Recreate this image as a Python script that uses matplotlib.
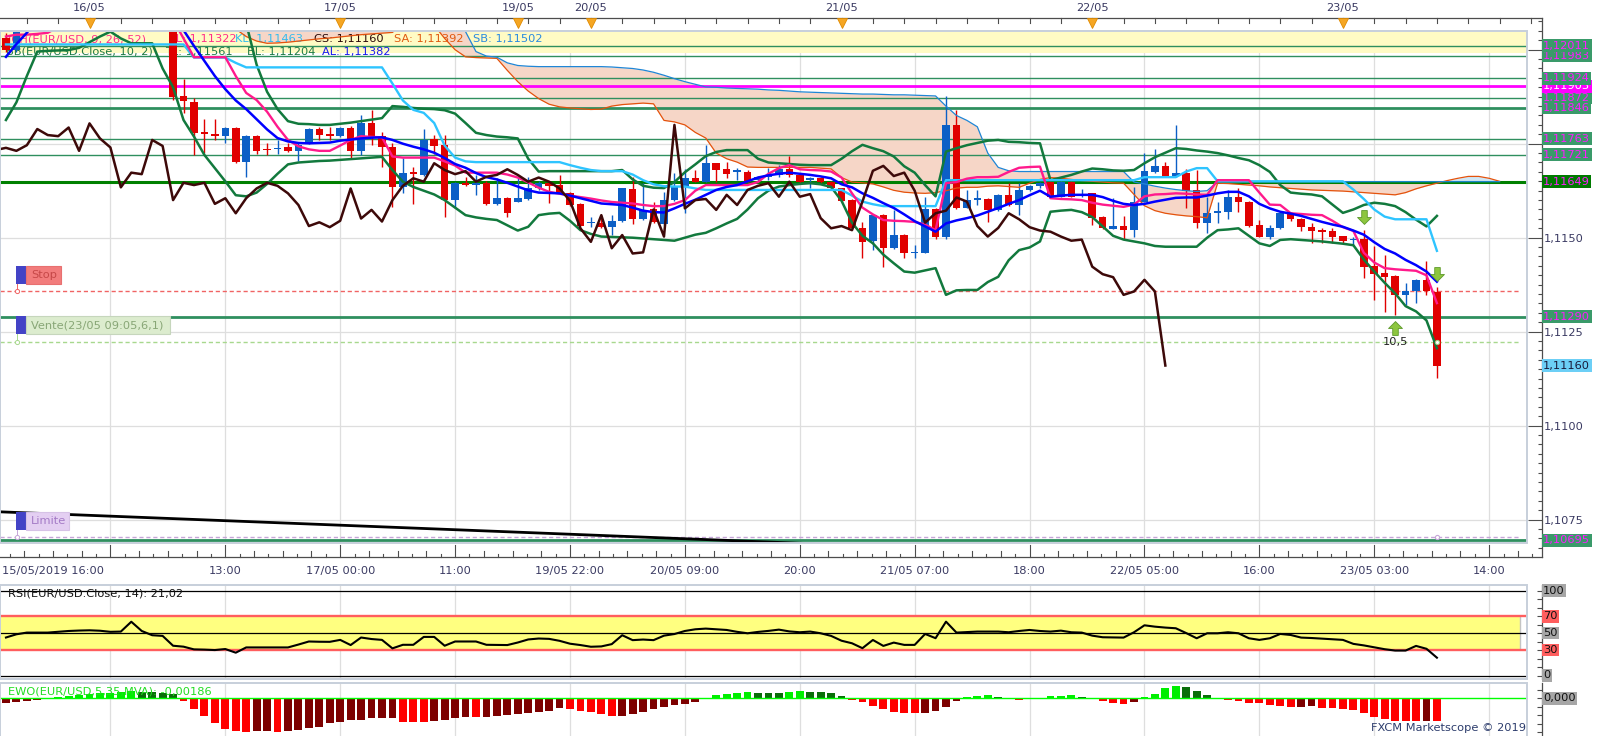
import numpy as np
import matplotlib
matplotlib.use("Agg")
import matplotlib.pyplot as plt
import matplotlib.transforms as mtransforms
from matplotlib.patches import Rectangle
from matplotlib.path import Path

plt.rcParams['font.family'] = ['DejaVu Sans']

# ------------------------------------------------------------------ data
BAR_START = -21          # bar index of first candle (bar 0 = 16/05 13:00)

OPEN = [1.12032, 1.12000, 1.12048, 1.12085, 1.12130, 1.12150, 1.12185, 1.12210, 1.12190, 1.12170,
        1.12160, 1.12140, 1.12165, 1.12210, 1.12150, 1.12110,
        1.12070, 1.11878, 1.11862, 1.11782, 1.11777, 1.11770, 1.11791, 1.11702, 1.11770, 1.11737,
        1.11735, 1.11740, 1.11731, 1.11751, 1.11789, 1.11776, 1.11770, 1.11793, 1.11731, 1.11804,
        1.11770, 1.11740, 1.11634, 1.11676, 1.11667, 1.11762, 1.11747, 1.11600, 1.11646, 1.11640,
        1.11646, 1.11590, 1.11605, 1.11596, 1.11603, 1.11631, 1.11646, 1.11640, 1.11620, 1.11590,
        1.11539, 1.11540, 1.11528, 1.11545, 1.11629, 1.11551, 1.11575, 1.11536, 1.11600, 1.11638,
        1.11658, 1.11649, 1.11698, 1.11682, 1.11675, 1.11676, 1.11653, 1.11661, 1.11667, 1.11682,
        1.11667, 1.11653, 1.11660, 1.11649, 1.11631, 1.11600, 1.11525, 1.11490, 1.11560, 1.11472,
        1.11507, 1.11459, 1.11460, 1.11575, 1.11503, 1.11800, 1.11580, 1.11601, 1.11603, 1.11575,
        1.11614, 1.11587, 1.11626, 1.11637, 1.11649, 1.11609, 1.11649, 1.11611, 1.11618, 1.11556,
        1.11524, 1.11531, 1.11520, 1.11596, 1.11676, 1.11691, 1.11664, 1.11671, 1.11627, 1.11540,
        1.11565, 1.11569, 1.11607, 1.11596, 1.11534, 1.11503, 1.11525, 1.11565, 1.11551, 1.11528,
        1.11520, 1.11519, 1.11504, 1.11493, 1.11496, 1.11425, 1.11407, 1.11398, 1.11348, 1.11357,
        1.11388, 1.11356]
HIGH = [1.12045, 1.12060, 1.12095, 1.12140, 1.12170, 1.12200, 1.12230, 1.12240, 1.12215, 1.12200,
        1.12190, 1.12180, 1.12230, 1.12220, 1.12160, 1.12120,
        1.12080, 1.11921, 1.11871, 1.11815, 1.11815, 1.11795, 1.11795, 1.11772, 1.11772, 1.11751,
        1.11760, 1.11751, 1.11751, 1.11792, 1.11794, 1.11794, 1.11795, 1.11796, 1.11826, 1.11839,
        1.11782, 1.11751, 1.11711, 1.11689, 1.11788, 1.11773, 1.11773, 1.11648, 1.11662, 1.11667,
        1.11650, 1.11658, 1.11607, 1.11658, 1.11661, 1.11650, 1.11649, 1.11667, 1.11622, 1.11592,
        1.11554, 1.11560, 1.11560, 1.11633, 1.11661, 1.11646, 1.11596, 1.11622, 1.11671, 1.11684,
        1.11680, 1.11747, 1.11700, 1.11702, 1.11685, 1.11680, 1.11665, 1.11685, 1.11693, 1.11717,
        1.11670, 1.11662, 1.11662, 1.11651, 1.11633, 1.11602, 1.11543, 1.11562, 1.11562, 1.11574,
        1.11509, 1.11480, 1.11609, 1.11578, 1.11877, 1.11840, 1.11627, 1.11627, 1.11605, 1.11616,
        1.11645, 1.11645, 1.11640, 1.11648, 1.11651, 1.11651, 1.11651, 1.11629, 1.11620, 1.11558,
        1.11605, 1.11558, 1.11634, 1.11724, 1.11735, 1.11702, 1.11800, 1.11684, 1.11680, 1.11609,
        1.11596, 1.11627, 1.11631, 1.11598, 1.11547, 1.11534, 1.11569, 1.11568, 1.11553, 1.11538,
        1.11525, 1.11525, 1.11505, 1.11503, 1.11520, 1.11478, 1.11454, 1.11400, 1.11379, 1.11390,
        1.11437, 1.11370]
LOW = [1.11995, 1.11995, 1.12050, 1.12075, 1.12110, 1.12130, 1.12160, 1.12175, 1.12150, 1.12140,
       1.12120, 1.12110, 1.12150, 1.12140, 1.12100, 1.12060,
       1.11865, 1.11831, 1.11720, 1.11726, 1.11760, 1.11751, 1.11700, 1.11662, 1.11723, 1.11720,
       1.11722, 1.11729, 1.11705, 1.11750, 1.11760, 1.11760, 1.11768, 1.11711, 1.11720, 1.11746,
       1.11689, 1.11582, 1.11618, 1.11590, 1.11663, 1.11723, 1.11554, 1.11578, 1.11638, 1.11614,
       1.11588, 1.11588, 1.11554, 1.11594, 1.11600, 1.11628, 1.11593, 1.11616, 1.11585, 1.11529,
       1.11529, 1.11526, 1.11507, 1.11543, 1.11536, 1.11547, 1.11540, 1.11534, 1.11598, 1.11565,
       1.11647, 1.11647, 1.11649, 1.11658, 1.11654, 1.11647, 1.11650, 1.11654, 1.11662, 1.11662,
       1.11645, 1.11631, 1.11645, 1.11630, 1.11596, 1.11523, 1.11445, 1.11467, 1.11423, 1.11470,
       1.11445, 1.11445, 1.11458, 1.11496, 1.11496, 1.11576, 1.11578, 1.11587, 1.11543, 1.11572,
       1.11585, 1.11560, 1.11624, 1.11633, 1.11607, 1.11607, 1.11607, 1.11609, 1.11534, 1.11523,
       1.11522, 1.11494, 1.11503, 1.11594, 1.11673, 1.11662, 1.11662, 1.11578, 1.11525, 1.11512,
       1.11538, 1.11549, 1.11569, 1.11529, 1.11501, 1.11496, 1.11522, 1.11545, 1.11519, 1.11487,
       1.11485, 1.11487, 1.11485, 1.11478, 1.11392, 1.11333, 1.11303, 1.11295, 1.11321, 1.11326,
       1.11348, 1.11126]
CLOSE = [1.12000, 1.12048, 1.12085, 1.12130, 1.12150, 1.12185, 1.12210, 1.12190, 1.12170, 1.12160,
         1.12140, 1.12165, 1.12210, 1.12150, 1.12110, 1.12070,
         1.11875, 1.11864, 1.11779, 1.11776, 1.11770, 1.11793, 1.11702, 1.11770, 1.11731, 1.11733,
         1.11739, 1.11731, 1.11746, 1.11789, 1.11773, 1.11770, 1.11793, 1.11731, 1.11804, 1.11764,
         1.11740, 1.11634, 1.11673, 1.11669, 1.11760, 1.11744, 1.11600, 1.11646, 1.11640, 1.11646,
         1.11590, 1.11605, 1.11565, 1.11605, 1.11631, 1.11646, 1.11638, 1.11618, 1.11587, 1.11531,
         1.11541, 1.11528, 1.11545, 1.11631, 1.11551, 1.11574, 1.11543, 1.11600, 1.11638, 1.11658,
         1.11649, 1.11698, 1.11680, 1.11669, 1.11677, 1.11649, 1.11662, 1.11667, 1.11682, 1.11667,
         1.11649, 1.11660, 1.11649, 1.11631, 1.11598, 1.11525, 1.11489, 1.11560, 1.11472, 1.11507,
         1.11458, 1.11461, 1.11575, 1.11503, 1.11800, 1.11578, 1.11600, 1.11603, 1.11574, 1.11614,
         1.11587, 1.11627, 1.11638, 1.11645, 1.11609, 1.11649, 1.11609, 1.11616, 1.11552, 1.11525,
         1.11531, 1.11520, 1.11596, 1.11678, 1.11691, 1.11664, 1.11673, 1.11625, 1.11540, 1.11565,
         1.11572, 1.11607, 1.11596, 1.11531, 1.11503, 1.11526, 1.11565, 1.11549, 1.11528, 1.11519,
         1.11516, 1.11503, 1.11492, 1.11495, 1.11423, 1.11403, 1.11395, 1.11348, 1.11357, 1.11388,
         1.11357, 1.11160]

TENKAN = [1.12035, 1.12040, 1.12040, 1.12042, 1.12045, 1.12060, 1.12080, 1.12080, 1.12080, 1.12080,
          1.12080, 1.12080, 1.12080, 1.12080, 1.12080, 1.12080, 1.12080, 1.12030, 1.11980, 1.11980,
          1.11980, 1.11980, 1.11930, 1.11885, 1.11866, 1.11835, 1.11795, 1.11760, 1.11743, 1.11735,
          1.11731, 1.11731, 1.11745, 1.11760, 1.11770, 1.11768, 1.11767, 1.11716, 1.11713, 1.11713,
          1.11713, 1.11713, 1.11703, 1.11692, 1.11673, 1.11673, 1.11673, 1.11673, 1.11668, 1.11660,
          1.11647, 1.11633, 1.11622, 1.11617, 1.11612, 1.11608, 1.11604, 1.11599, 1.11595, 1.11593,
          1.11591, 1.11587, 1.11584, 1.11584, 1.11590, 1.11600, 1.11625, 1.11640, 1.11640, 1.11640,
          1.11640, 1.11640, 1.11648, 1.11670, 1.11685, 1.11693, 1.11682, 1.11680, 1.11679, 1.11676,
          1.11660, 1.11618, 1.11580, 1.11562, 1.11547, 1.11545, 1.11544, 1.11542, 1.11535, 1.11520,
          1.11645, 1.11648, 1.11657, 1.11661, 1.11661, 1.11662, 1.11675, 1.11686, 1.11688, 1.11689,
          1.11605, 1.11603, 1.11602, 1.11600, 1.11593, 1.11588, 1.11585, 1.11582, 1.11588, 1.11610,
          1.11615, 1.11616, 1.11618, 1.11617, 1.11615, 1.11614, 1.11653, 1.11653, 1.11653, 1.11653,
          1.11620, 1.11588, 1.11587, 1.11565, 1.11563, 1.11561, 1.11560, 1.11545, 1.11528, 1.11518,
          1.11460, 1.11434, 1.11419, 1.11416, 1.11414, 1.11412, 1.11400, 1.11326]
KIJUN = [1.12014, 1.12014, 1.12014, 1.12014, 1.12014, 1.12014, 1.12014, 1.12014, 1.12014, 1.12014,
         1.12014, 1.12014, 1.12014, 1.12014, 1.12014, 1.12014, 1.12014, 1.12014, 1.11979, 1.11979,
         1.11979, 1.11979, 1.11965, 1.11953, 1.11953, 1.11953, 1.11953, 1.11953, 1.11953, 1.11953,
         1.11953, 1.11953, 1.11953, 1.11953, 1.11953, 1.11953, 1.11953, 1.11910, 1.11865, 1.11840,
         1.11832, 1.11805, 1.11745, 1.11713, 1.11703, 1.11701, 1.11701, 1.11701, 1.11701, 1.11701,
         1.11701, 1.11701, 1.11701, 1.11701, 1.11693, 1.11686, 1.11680, 1.11677, 1.11677, 1.11677,
         1.11668, 1.11653, 1.11642, 1.11637, 1.11636, 1.11636, 1.11631, 1.11627, 1.11627, 1.11627,
         1.11627, 1.11627, 1.11627, 1.11627, 1.11627, 1.11627, 1.11627, 1.11627, 1.11627, 1.11627,
         1.11627, 1.11612, 1.11596, 1.11589, 1.11584, 1.11584, 1.11584, 1.11584, 1.11584, 1.11584,
         1.11653, 1.11653, 1.11653, 1.11653, 1.11653, 1.11653, 1.11653, 1.11653, 1.11653, 1.11653,
         1.11653, 1.11653, 1.11653, 1.11653, 1.11653, 1.11653, 1.11653, 1.11653, 1.11653, 1.11661,
         1.11661, 1.11661, 1.11661, 1.11676, 1.11685, 1.11685, 1.11650, 1.11650, 1.11650, 1.11650,
         1.11650, 1.11650, 1.11650, 1.11650, 1.11650, 1.11650, 1.11650, 1.11650, 1.11650, 1.11628,
         1.11603, 1.11575, 1.11556, 1.11549, 1.11549, 1.11549, 1.11549, 1.11465]
CHIKOU_SHIFT = 26

BB_UPPER = [1.12100, 1.12100, 1.12100, 1.12100, 1.12100, 1.12100, 1.12100, 1.12100, 1.12100, 1.12100,
            1.12100, 1.12100, 1.12100, 1.12100, 1.12100, 1.12100, 1.12100, 1.12100, 1.12100, 1.12100,
            1.12100, 1.12100, 1.12100, 1.12070, 1.11960, 1.11888, 1.11842, 1.11810, 1.11803, 1.11802,
            1.11800, 1.11800, 1.11803, 1.11806, 1.11810, 1.11814, 1.11818, 1.11850, 1.11848, 1.11845,
            1.11843, 1.11842, 1.11839, 1.11830, 1.11805, 1.11779, 1.11773, 1.11769, 1.11767, 1.11764,
            1.11710, 1.11676, 1.11677, 1.11677, 1.11677, 1.11677, 1.11677, 1.11677, 1.11677, 1.11680,
            1.11655, 1.11638, 1.11633, 1.11632, 1.11648, 1.11674, 1.11695, 1.11717, 1.11728, 1.11733,
            1.11733, 1.11733, 1.11710, 1.11700, 1.11698, 1.11696, 1.11694, 1.11693, 1.11693, 1.11693,
            1.11710, 1.11730, 1.11747, 1.11738, 1.11730, 1.11716, 1.11690, 1.11673, 1.11640, 1.11610,
            1.11729, 1.11738, 1.11746, 1.11752, 1.11758, 1.11760, 1.11755, 1.11754, 1.11752, 1.11751,
            1.11653, 1.11660, 1.11667, 1.11676, 1.11684, 1.11682, 1.11679, 1.11678, 1.11680, 1.11698,
            1.11714, 1.11726, 1.11738, 1.11736, 1.11732, 1.11729, 1.11725, 1.11719, 1.11712, 1.11706,
            1.11693, 1.11675, 1.11640, 1.11620, 1.11617, 1.11615, 1.11610, 1.11588, 1.11566, 1.11575,
            1.11587, 1.11593, 1.11590, 1.11584, 1.11568, 1.11548, 1.11530, 1.11558]
BB_LOWER = [1.11813, 1.11860, 1.11930, 1.11995, 1.11997, 1.11998, 1.11999, 1.12005, 1.12020, 1.12035,
            1.12048, 1.12030, 1.12017, 1.12017, 1.12017, 1.11950, 1.11900, 1.11813, 1.11769, 1.11720,
            1.11685, 1.11650, 1.11613, 1.11610, 1.11620, 1.11643, 1.11670, 1.11695, 1.11700, 1.11702,
            1.11704, 1.11705, 1.11707, 1.11709, 1.11711, 1.11713, 1.11715, 1.11680, 1.11649, 1.11635,
            1.11625, 1.11615, 1.11600, 1.11580, 1.11560, 1.11554, 1.11550, 1.11547, 1.11533, 1.11519,
            1.11529, 1.11560, 1.11564, 1.11566, 1.11545, 1.11520, 1.11510, 1.11503, 1.11502, 1.11501,
            1.11500, 1.11498, 1.11496, 1.11494, 1.11492, 1.11500, 1.11508, 1.11513, 1.11525, 1.11538,
            1.11550, 1.11575, 1.11605, 1.11625, 1.11636, 1.11640, 1.11643, 1.11645, 1.11642, 1.11635,
            1.11598, 1.11540, 1.11505, 1.11485, 1.11455, 1.11432, 1.11410, 1.11407, 1.11413, 1.11419,
            1.11348, 1.11360, 1.11361, 1.11361, 1.11382, 1.11396, 1.11440, 1.11467, 1.11474, 1.11490,
            1.11569, 1.11572, 1.11574, 1.11568, 1.11555, 1.11530, 1.11505, 1.11495, 1.11490, 1.11485,
            1.11478, 1.11476, 1.11476, 1.11476, 1.11476, 1.11500, 1.11520, 1.11522, 1.11525, 1.11505,
            1.11485, 1.11478, 1.11494, 1.11496, 1.11494, 1.11492, 1.11490, 1.11487, 1.11484, 1.11480,
            1.11442, 1.11410, 1.11380, 1.11352, 1.11318, 1.11304, 1.11280, 1.11206]
BB_AVG = [1.11981, 1.12015, 1.12045, 1.12080, 1.12080, 1.12080, 1.12080, 1.12080, 1.12080, 1.12080,
          1.12080, 1.12080, 1.12080, 1.12080, 1.12080, 1.12080, 1.12080, 1.12052, 1.12010, 1.11970,
          1.11930, 1.11895, 1.11865, 1.11842, 1.11815, 1.11788, 1.11765, 1.11756, 1.11752, 1.11751,
          1.11752, 1.11753, 1.11758, 1.11761, 1.11764, 1.11766, 1.11767, 1.11760, 1.11750, 1.11742,
          1.11735, 1.11726, 1.11712, 1.11696, 1.11686, 1.11672, 1.11661, 1.11655, 1.11646, 1.11636,
          1.11626, 1.11620, 1.11619, 1.11618, 1.11612, 1.11605, 1.11598, 1.11591, 1.11589, 1.11587,
          1.11580, 1.11572, 1.11568, 1.11567, 1.11578, 1.11590, 1.11601, 1.11614, 1.11627, 1.11635,
          1.11640, 1.11650, 1.11660, 1.11666, 1.11670, 1.11673, 1.11670, 1.11667, 1.11663, 1.11658,
          1.11642, 1.11634, 1.11618, 1.11606, 1.11592, 1.11579, 1.11562, 1.11544, 1.11530, 1.11516,
          1.11538, 1.11546, 1.11552, 1.11559, 1.11569, 1.11579, 1.11590, 1.11600, 1.11613, 1.11625,
          1.11609, 1.11612, 1.11614, 1.11614, 1.11614, 1.11608, 1.11598, 1.11590, 1.11587, 1.11590,
          1.11596, 1.11601, 1.11606, 1.11607, 1.11607, 1.11612, 1.11618, 1.11622, 1.11622, 1.11610,
          1.11590, 1.11578, 1.11569, 1.11564, 1.11558, 1.11550, 1.11542, 1.11535, 1.11529, 1.11519,
          1.11508, 1.11488, 1.11470, 1.11458, 1.11441, 1.11427, 1.11410, 1.11383]

# senkou spans, displayed from bar -21 to bar 122
SENKOU_A = [1.12080, 1.12080, 1.12080, 1.12080, 1.12080, 1.12080, 1.12080, 1.12080, 1.12080, 1.12080,
            1.12080, 1.12080, 1.12080, 1.12080, 1.12080, 1.12080, 1.12080, 1.12080, 1.12080, 1.12080,
            1.12080, 1.12080, 1.12055, 1.12035, 1.12023, 1.12017, 1.12018, 1.12020, 1.12023, 1.12026,
            1.12029, 1.12031, 1.12034, 1.12037, 1.12040, 1.12042, 1.12044, 1.12046, 1.12070, 1.12080,
            1.12080, 1.12065, 1.12030, 1.12000, 1.11981, 1.11979, 1.11978, 1.11977, 1.11945, 1.11915,
            1.11890, 1.11870, 1.11855, 1.11848, 1.11845, 1.11843, 1.11841, 1.11842, 1.11850, 1.11854,
            1.11856, 1.11858, 1.11856, 1.11812, 1.11808, 1.11800, 1.11780, 1.11765, 1.11725, 1.11710,
            1.11701, 1.11688, 1.11687, 1.11687, 1.11687, 1.11687, 1.11687, 1.11687, 1.11685, 1.11683,
            1.11660, 1.11648, 1.11646, 1.11643, 1.11635, 1.11626, 1.11621, 1.11619, 1.11618, 1.11620,
            1.11625, 1.11632, 1.11634, 1.11634, 1.11637, 1.11638, 1.11636, 1.11634, 1.11645, 1.11655,
            1.11660, 1.11658, 1.11655, 1.11652, 1.11650, 1.11648, 1.11646, 1.11645, 1.11615, 1.11585,
            1.11572, 1.11565, 1.11561, 1.11558, 1.11556, 1.11553, 1.11645, 1.11644, 1.11642, 1.11640,
            1.11638, 1.11635, 1.11633, 1.11631, 1.11629, 1.11627, 1.11626, 1.11625, 1.11624, 1.11622,
            1.11620, 1.11618, 1.11616, 1.11614, 1.11620, 1.11630, 1.11638, 1.11645, 1.11652, 1.11658,
            1.11663, 1.11663, 1.11658, 1.11650]
SENKOU_B = [1.12100, 1.12100, 1.12100, 1.12100, 1.12100, 1.12100, 1.12100, 1.12100, 1.12100, 1.12100,
            1.12100, 1.12100, 1.12100, 1.12100, 1.12100, 1.12100, 1.12100, 1.12100, 1.12100, 1.12100,
            1.12100, 1.12100, 1.12100, 1.12100, 1.12100, 1.12100, 1.12100, 1.12100, 1.12100, 1.12100,
            1.12100, 1.12100, 1.12100, 1.12100, 1.12100, 1.12100, 1.12100, 1.12100, 1.12100, 1.12100,
            1.12100, 1.12100, 1.12100, 1.12100, 1.12048, 1.11995, 1.11983, 1.11980, 1.11965, 1.11958,
            1.11956, 1.11955, 1.11955, 1.11955, 1.11955, 1.11955, 1.11955, 1.11955, 1.11954, 1.11952,
            1.11950, 1.11946, 1.11940, 1.11932, 1.11923, 1.11915, 1.11908, 1.11901, 1.11900, 1.11898,
            1.11897, 1.11896, 1.11895, 1.11893, 1.11892, 1.11890, 1.11888, 1.11887, 1.11886, 1.11885,
            1.11884, 1.11883, 1.11882, 1.11882, 1.11881, 1.11880, 1.11880, 1.11879, 1.11878, 1.11877,
            1.11850, 1.11825, 1.11812, 1.11795, 1.11725, 1.11687, 1.11678, 1.11676, 1.11676, 1.11676,
            1.11676, 1.11676, 1.11676, 1.11676, 1.11676, 1.11676, 1.11676, 1.11676, 1.11648, 1.11643,
            1.11637, 1.11632, 1.11628, 1.11625, 1.11623, 1.11625, 1.11649, 1.11649, 1.11649, 1.11649,
            1.11649, 1.11649, 1.11649, 1.11649, 1.11649, 1.11649, 1.11649, 1.11649, 1.11649, 1.11649,
            1.11649, 1.11649, 1.11649, 1.11649, 1.11649, 1.11649, 1.11649, 1.11649, 1.11649, 1.11649,
            1.11649, 1.11649, 1.11649, 1.11649]

RSI = [44.8, 48.6, 50.6, 50.6, 50.6, 51.5, 52.5, 53.0, 53.3, 52.8,
       51.5, 51.8, 63.4, 52.5, 47.5, 46.7, 35.1, 34.0, 30.8, 30.5,
       30.0, 31.2, 26.9, 33.1, 33.1, 33.1, 33.1, 33.1, 36.5, 40.1,
       39.8, 39.7, 42.0, 35.9, 44.8, 43.0, 42.0, 32.0, 36.2, 36.2,
       45.5, 45.5, 35.1, 40.1, 40.1, 40.1, 36.2, 36.0, 35.9, 38.9,
       42.5, 43.6, 43.2, 40.9, 37.5, 35.9, 33.9, 34.3, 37.0, 47.5,
       41.7, 42.4, 41.7, 47.0, 48.9, 52.5, 54.5, 55.3, 54.5, 53.7,
       51.5, 49.8, 51.4, 52.6, 54.1, 52.0, 51.0, 51.8, 49.8, 46.7,
       41.0, 38.0, 32.2, 41.9, 34.9, 38.8, 36.1, 36.1, 49.0, 44.0,
       63.5, 50.6, 51.2, 51.8, 51.8, 51.8, 51.0, 52.5, 53.7, 52.5,
       51.8, 52.9, 51.0, 50.6, 47.0, 45.1, 44.9, 44.7, 51.0, 59.2,
       57.6, 56.5, 55.7, 50.0, 43.9, 49.8, 49.8, 51.0, 49.8, 43.9,
       42.0, 43.9, 49.0, 47.8, 44.7, 44.2, 43.5, 42.7, 42.0, 37.3,
       35.5, 33.3, 31.0, 29.4, 29.4, 34.9, 31.5, 21.0]

EWO = [-0.00036, -0.00028, -0.00019, -0.00014, -0.00008, 0.00014, 0.00019, 0.00028, 0.00036, 0.00042,
       0.00047, 0.00056, 0.00061, 0.00056, 0.00055, 0.00047, 0.00036, -0.00019, -0.00092, -0.00150,
       -0.00208, -0.00255, -0.00269, -0.00278, -0.00272, -0.00270, -0.00278, -0.00275, -0.00264, -0.00250,
       -0.00236, -0.00208, -0.00194, -0.00181, -0.00180, -0.00167, -0.00166, -0.00165, -0.00194, -0.00196,
       -0.00198, -0.00190, -0.00181, -0.00167, -0.00153, -0.00156, -0.00152, -0.00144, -0.00139, -0.00131,
       -0.00125, -0.00117, -0.00106, -0.00083, -0.00092, -0.00103, -0.00117, -0.00131, -0.00147, -0.00146,
       -0.00131, -0.00111, -0.00092, -0.00075, -0.00058, -0.00047, -0.00028, -0.00006, 0.00028, 0.00036,
       0.00047, 0.00056, 0.00048, 0.00047, 0.00046, 0.00056, 0.00057, 0.00050, 0.00049, 0.00042,
       0.00019, -0.00011, -0.00028, -0.00064, -0.00092, -0.00111, -0.00119, -0.00122, -0.00119, -0.00103,
       -0.00069, -0.00019, 0.00014, 0.00019, 0.00025, 0.00011, -0.00008, -0.00011, -0.00009, 0.00003,
       0.00019, 0.00020, 0.00028, 0.00014, -0.00003, -0.00019, -0.00036, -0.00047, -0.00028, 0.00008,
       0.00036, 0.00083, 0.00103, 0.00097, 0.00064, 0.00028, -0.00006, -0.00011, -0.00025, -0.00036,
       -0.00042, -0.00056, -0.00064, -0.00072, -0.00069, -0.00067, -0.00078, -0.00083, -0.00092, -0.00100,
       -0.00119, -0.00153, -0.00172, -0.00186, -0.00188, -0.00189, -0.00185, -0.00186]

# horizontal levels drawn on the chart
LEVEL_PRICES = [1.12011, 1.11983, 1.11924, 1.11903, 1.11872, 1.11846, 1.11763, 1.11721, 1.11649, 1.11290, 1.10695]
LEVEL_KIND = ['thin', 'thin', 'thin', 'magenta', 'thin', 'thick', 'thin', 'thin', 'main', 'thick', 'thick']
LAST_PRICE = 1.11160

# order lines
STOP_PRICE = 1.11357
ENTRY_PRICE = 1.11223
LIMIT_PRICE = 1.10703
TREND_K = [-21.6, 80.0]
TREND_P = [1.10771, 1.10660]

SELL_K = [109, 116]
BUY_K = [112]
BUY_TEXT = '10,5'

PRICE_MAJOR = [1.1075, 1.1100, 1.1125, 1.1150, 1.1175, 1.1200]
# 1,1175 and 1,1200 are hidden behind the level boxes in the reference
PRICE_MAJOR_LABELS = ['1,1075', '1,1100', '1,1125', '1,1150', '', '']
TIME_K = [0, 11, 22, 33, 44, 55, 66, 77, 88, 99, 110, 121]
TIME_LABELS = ['13:00', '17/05 00:00', '11:00', '19/05 22:00', '20/05 09:00', '20:00',
               '21/05 07:00', '18:00', '22/05 05:00', '16:00', '23/05 03:00', '14:00']
FIRST_TIME_LABEL = '15/05/2019 16:00'
DATE_K = [-13, 11, 28, 35, 59, 83, 107]
DATE_LABELS = ['16/05', '17/05', '19/05', '20/05', '21/05', '22/05', '23/05']
GRID_K = [-11, 0, 11, 22, 33, 44, 55, 66, 77, 88, 99, 110, 121]

for name, arr, n in [('OPEN', OPEN, 138), ('HIGH', HIGH, 138), ('LOW', LOW, 138), ('CLOSE', CLOSE, 138),
                     ('TENKAN', TENKAN, 138), ('KIJUN', KIJUN, 138), ('BB_UPPER', BB_UPPER, 138),
                     ('BB_LOWER', BB_LOWER, 138), ('BB_AVG', BB_AVG, 138), ('RSI', RSI, 138), ('EWO', EWO, 138),
                     ('SENKOU_A', SENKOU_A, 144), ('SENKOU_B', SENKOU_B, 144)]:
    assert len(arr) == n, f"{name} has {len(arr)}"

# ------------------------------------------------------------------ layout (pixels)
W, H = 1599, 736
X_BAR0, BAR_PX = 225.3, 10.445
Y_REF, REF_PRICE, PX_PER_PRICE = 237.7, 1.1150, 37600.0


def bar_at(px):
    return (px - X_BAR0) / BAR_PX


def price_at(py):
    return REF_PRICE + (Y_REF - py) / PX_PER_PRICE


fig = plt.figure(figsize=(W / 100, H / 100), dpi=100)
fig.patch.set_facecolor('white')
T_px = mtransforms.Affine2D().scale(1.0 / W, -1.0 / H).translate(0, 1.0) + fig.transFigure


def px_axes(x0, y0, x1, y1, z):
    a = fig.add_axes([x0 / W, 1 - y1 / H, (x1 - x0) / W, (y1 - y0) / H])
    a.set_zorder(z)
    return a


AXIS_COL = '#4d4d4d'
LABEL_COL = '#3a3a62'
GRID_COL = '#dedede'
BORDER_COL = '#c7cfdb'
FS = 8.2
XR = 1527.0   # right edge of plotting panels

# ------------------------------------------------------------------ frame axes (ticks)
axf = px_axes(0, 18.3, 1541.7, 556.7, 0)
axf.set_xlim(bar_at(0), bar_at(1541.7))
axf.set_ylim(price_at(556.7), price_at(18.3))
axf.spines['left'].set_visible(False)
for s in ('top', 'right', 'bottom'):
    axf.spines[s].set_color(AXIS_COL)
    axf.spines[s].set_linewidth(0.9)
axf.yaxis.tick_right()
axf.set_yticks(PRICE_MAJOR)
axf.set_yticklabels(PRICE_MAJOR_LABELS)
axf.set_yticks(np.arange(1.10675, 1.12076, 0.00025), minor=True)
axf.tick_params(axis='y', which='major', direction='in', length=10, width=0.8, color=AXIS_COL,
                labelsize=FS, labelcolor=LABEL_COL, pad=1.8)
axf.tick_params(axis='y', which='minor', direction='in', length=3, width=0.8, color=AXIS_COL)
axf.set_xticks([])

tb = mtransforms.blended_transform_factory(axf.transData, T_px)
xmin_f, xmax_f = axf.get_xlim()
for km in range(-22, 133, 11):
    for j in range(8):
        pos = km + j * 11 / 8
        if pos < xmin_f or pos > xmax_f:
            continue
        ln = 12 if j == 0 else (6 if j % 2 == 0 else 3)
        axf.plot([pos, pos], [556.7, 556.7 - ln], transform=tb, color=AXIS_COL, lw=0.8, clip_on=False)
for kt in range(-19, 126, 3):
    axf.plot([kt, kt], [18.3, 23.3], transform=tb, color=AXIS_COL, lw=0.8, clip_on=False)
axf.plot(DATE_K, [23.0] * len(DATE_K), transform=tb, ls='none', marker='v', ms=6.5,
         mfc='#f5a623', mec='#e08a00', mew=0.6, clip_on=False, zorder=5)
for kd, lab in zip(DATE_K, DATE_LABELS):
    axf.text(kd, 8.3, lab, transform=tb, ha='center', va='center', fontsize=FS, color=LABEL_COL)
for kt, lab in zip(TIME_K, TIME_LABELS):
    axf.text(kt, 571, lab, transform=tb, ha='center', va='center', fontsize=FS, color=LABEL_COL)
axf.text(2, 571, FIRST_TIME_LABEL, transform=T_px, ha='left', va='center', fontsize=FS, color=LABEL_COL)

# ------------------------------------------------------------------ main price panel
ax = px_axes(0, 31, XR, 543, 1)
ax.set_xlim(bar_at(0), bar_at(XR))
ax.set_ylim(price_at(543), price_at(31))
ax.set_xticks([])
ax.set_yticks([])
for s in ax.spines.values():
    s.set_visible(False)
ax.add_patch(Rectangle((0, 0), 1, 1, transform=ax.transAxes, fill=False, ec=BORDER_COL, lw=1.4,
                       clip_on=False, zorder=9))
for kg in GRID_K:
    ax.axvline(kg, color=GRID_COL, lw=0.9, zorder=0.5)
for pg in PRICE_MAJOR:
    ax.axhline(pg, color=GRID_COL, lw=0.9, zorder=0.5)

# legend band
ax.add_patch(Rectangle((0, 31.7), XR, 21.6, transform=T_px, fc='#fffbc4', ec='none', zorder=0.8))

kb = BAR_START + np.arange(len(CLOSE))
kc = BAR_START + np.arange(len(SENKOU_A))
sa = np.array(SENKOU_A)
sb = np.array(SENKOU_B)
ax.fill_between(kc, sa, sb, where=sb >= sa, interpolate=True, color='#f6d6c7', lw=0, zorder=1)
ax.fill_between(kc, sa, sb, where=sa > sb, interpolate=True, color='#cfe6f5', lw=0, zorder=1)

# horizontal levels
for p, kind in zip(LEVEL_PRICES, LEVEL_KIND):
    if kind == 'thin':
        ax.axhline(p, color='#2f8f5f', lw=1.0, zorder=2)
    elif kind == 'thick':
        ax.axhline(p, color='#2f8f5f', lw=2.0, zorder=2)
    elif kind == 'magenta':
        ax.axhline(p, color='#ff00ff', lw=2.0, zorder=2)
    else:
        ax.axhline(p, color='#008000', lw=2.2, zorder=2)

# order lines and trend line
ax.hlines(STOP_PRICE, bar_at(0), bar_at(1520), colors='#f06464', lw=1.0, linestyles=(0, (3, 2)), zorder=2.2)
ax.hlines(ENTRY_PRICE, bar_at(0), bar_at(1520), colors='#a8d88e', lw=1.0, linestyles=(0, (3, 2)), zorder=2.2)
ax.hlines(LIMIT_PRICE, bar_at(0), bar_at(1520), colors='#c6a6d8', lw=1.0, linestyles=(0, (3, 2)), zorder=2.2)
ax.plot(TREND_K, TREND_P, color='black', lw=2.0, zorder=3.5)

# candles
o = np.array(OPEN); h = np.array(HIGH); l = np.array(LOW); c = np.array(CLOSE)
up = c >= o
ccol = np.where(up, '#0c5fc6', '#e00000')
ax.vlines(kb, l, h, colors=ccol, lw=1.0, zorder=3)
ax.bar(kb, np.maximum(np.abs(c - o), 0.00004), width=0.72, bottom=np.minimum(o, c), color=ccol,
       lw=0, zorder=3.1)

# indicator lines
ax.plot(kc, sa, color='#e4520c', lw=0.9, zorder=4)
ax.plot(kc, sb, color='#1f86d6', lw=0.9, zorder=4)
ax.plot(kb, BB_UPPER, color='#12793d', lw=1.8, zorder=4.1)
ax.plot(kb, BB_LOWER, color='#12793d', lw=1.8, zorder=4.1)
ax.plot(kb, KIJUN, color='#2ec4ff', lw=1.7, zorder=4.2)
ax.plot(kb, TENKAN, color='#ff1a8c', lw=1.7, zorder=4.3)
ax.plot(kb, BB_AVG, color='#0000ff', lw=1.8, zorder=4.4)
ax.plot(kb - CHIKOU_SHIFT, c, color='#3d0909', lw=1.8, zorder=4.5)

# signal arrows
ARROW_DOWN = Path([(-0.2, 0.5), (0.2, 0.5), (0.2, 0.0), (0.5, 0.0), (0.0, -0.5), (-0.5, 0.0), (-0.2, 0.0),
                   (-0.2, 0.5)], [Path.MOVETO] + [Path.LINETO] * 6 + [Path.CLOSEPOLY])
ARROW_UP = Path(ARROW_DOWN.vertices * np.array([1, -1]), ARROW_DOWN.codes)
sidx = np.array(SELL_K) - BAR_START
bidx = np.array(BUY_K) - BAR_START
tr_above = mtransforms.offset_copy(ax.transData, fig=fig, x=0, y=12.7, units='dots')
tr_below = mtransforms.offset_copy(ax.transData, fig=fig, x=0, y=-13.0, units='dots')
tr_text = mtransforms.offset_copy(ax.transData, fig=fig, x=0, y=-27.0, units='dots')
ax.plot(SELL_K, h[sidx], ls='none', marker=ARROW_DOWN, ms=10, mfc='#8dc63f', mec='#5e9a2c', mew=0.6,
        transform=tr_above, zorder=8)
ax.plot(BUY_K, l[bidx], ls='none', marker=ARROW_UP, ms=10, mfc='#8dc63f', mec='#5e9a2c', mew=0.6,
        transform=tr_below, zorder=8)
for kk, li in zip(BUY_K, bidx):
    ax.text(kk, l[li], BUY_TEXT, transform=tr_text, ha='center', va='center', fontsize=FS, color='#202020',
            zorder=8)
ax.plot([kb[-1]], [ENTRY_PRICE], ls='none', marker='o', ms=3, mfc='white', mec='#9ccc80', mew=0.8, zorder=8)
ax.plot([kb[-1]], [LIMIT_PRICE], ls='none', marker='o', ms=3, mfc='white', mec='#c6a6d8', mew=0.8, zorder=8)

# legend texts
LEG1 = [('ICH(EUR/USD, 9, 26, 52)', 7.7, '#ff2d8a'), ('TL: 1,11322', 169.5, '#ff2d8a'),
        ('KL: 1,11463', 235, '#33bbee'), ('CS: 1,11160', 314, '#2a0808'),
        ('SA: 1,11392', 394, '#e05a10'), ('SB: 1,11502', 473, '#2a8ae0')]
LEG2 = [('BB(EUR/USD.Close, 10, 2)', 5.7, '#1e7a44'), ('TL: 1,11561', 164.6, '#1e7a44'),
        ('BL: 1,11204', 247, '#1e7a44'), ('AL: 1,11382', 321.5, '#1a1aee')]
for txt, xp, col in LEG1:
    ax.text(xp, 39.0, txt, transform=T_px, ha='left', va='center', fontsize=FS, color=col, zorder=2.5)
for txt, xp, col in LEG2:
    ax.text(xp, 52.0, txt, transform=T_px, ha='left', va='center', fontsize=FS, color=col, zorder=2.5)


# order tags (Stop / Vente / Limite)
def ypx(price):
    return H - ax.transData.transform((0, price))[1]


TAGS = [(STOP_PRICE, 'Stop', 35.3, '#f27c7c', '#e87070', '#c64848', '#f06464'),
        (ENTRY_PRICE, 'Vente(23/05 09:05,6,1)', 144, '#dcecce', '#c6d6bc', '#88a676', '#a8d88e'),
        (LIMIT_PRICE, 'Limite', 43.3, '#e4cff2', '#d6c2e6', '#a47ac6', '#c6a6d8')]
for price, txt, wbox, fc, ec, tc, lc in TAGS:
    yl = ypx(price)
    y0 = yl - 25.5
    ax.add_patch(Rectangle((16, y0), 10, 18, transform=T_px, fc='#4343c6', ec='none', zorder=7, clip_on=False))
    ax.add_patch(Rectangle((26, y0), wbox, 18, transform=T_px, fc=fc, ec=ec, lw=0.8, zorder=7, clip_on=False))
    ax.text(31, y0 + 9.5, txt, transform=T_px, ha='left', va='center', fontsize=FS, color=tc, zorder=7.5)
    ax.plot([16.5, 16.5], [y0 + 18, yl], transform=T_px, color=lc, lw=0.7, zorder=7)
    ax.plot([16.5], [yl], transform=T_px, ls='none', marker='o', ms=3, mfc='white', mec=lc, mew=0.7, zorder=7)

# price level boxes on the right axis
tr_box = mtransforms.blended_transform_factory(T_px, axf.transData)
BOXES = [(1.10695, '#3a9a6a', '#ff1aff'), (LAST_PRICE, '#6ccff6', '#1a1a3a'), (1.11290, '#3a9a6a', '#ff1aff'),
         (1.11649, '#007a00', '#ff1aff'), (1.11721, '#3a9a6a', '#ff1aff'), (1.11763, '#3a9a6a', '#ff1aff'),
         (1.11872, '#3a9a6a', '#ff1aff'), (1.11846, '#3a9a6a', '#ff1aff'), (1.11903, '#ff00ff', '#ffffff'),
         (1.11924, '#3a9a6a', '#ff1aff'), (1.11983, '#3a9a6a', '#ff1aff'), (1.12011, '#3a9a6a', '#ff1aff')]
for zi, (p, fc, tc) in enumerate(BOXES):
    axf.text(1543.2, p, ('%.5f' % p).replace('.', ','), transform=tr_box, ha='left', va='center',
             fontsize=FS, color=tc, clip_on=False, zorder=5 + zi * 0.1,
             bbox=dict(boxstyle='square,pad=0.12', fc=fc, ec='none'))

# ------------------------------------------------------------------ RSI panel
axr = px_axes(0, 585, 1541.7, 679, 1)
axr.set_xlim(bar_at(0), bar_at(1541.7))
r_px = (675.5 - 590.7) / 100.0
axr.set_ylim(-(679 - 675.5) / r_px, 100 + (590.7 - 585) / r_px)
for s in ('left', 'top', 'bottom'):
    axr.spines[s].set_visible(False)
axr.spines['right'].set_color(AXIS_COL)
axr.spines['right'].set_linewidth(0.9)
axr.set_xticks([])
axr.yaxis.tick_right()
axr.set_yticks(np.arange(0, 101, 10))
axr.tick_params(axis='y', direction='in', length=3.5, width=0.8, color=AXIS_COL, labelright=False)
axr.add_patch(Rectangle((0, 585), XR, 94, transform=T_px, fill=False, ec=BORDER_COL, lw=1.4, zorder=9,
                        clip_on=False))
for kg in GRID_K:
    axr.axvline(kg, color=GRID_COL, lw=0.9, zorder=0.5)
axr.add_patch(Rectangle((bar_at(0), 30), bar_at(1520) - bar_at(0), 40, fc='#ffff80', ec='none', zorder=1))
axr.vlines(bar_at(1520), 30, 70, colors='#c4c4c4', lw=1.0, zorder=1.2)
axr.hlines([70, 30], bar_at(0), bar_at(XR), colors='#ff5e5e', lw=1.7, zorder=2)
axr.hlines([100, 50, 0], bar_at(0), bar_at(XR), colors='black', lw=0.9, zorder=2)
axr.plot(kb, RSI, color='black', lw=1.5, zorder=3)
axr.text(7.7, 593, 'RSI(EUR/USD.Close, 14): 21,02', transform=T_px, ha='left', va='center', fontsize=FS,
         color='#111111', zorder=5)
tr_r = mtransforms.blended_transform_factory(T_px, axr.transData)
for val, fc in [(100, '#a6a6a6'), (70, '#ff5e5e'), (50, '#a6a6a6'), (30, '#ff5e5e'), (0, '#a6a6a6')]:
    axr.text(1543.2, val, str(val), transform=tr_r, ha='left', va='center', fontsize=FS, color='#111111',
             clip_on=False, bbox=dict(boxstyle='square,pad=0.12', fc=fc, ec='none'))

# ------------------------------------------------------------------ EWO panel
axe = px_axes(0, 683, 1541.7, 736, 1)
axe.set_xlim(bar_at(0), bar_at(1541.7))
e_px = 12000.0
axe.set_ylim(-(736 - 698.3) / e_px, (698.3 - 683) / e_px)
for s in ('left', 'top', 'bottom'):
    axe.spines[s].set_visible(False)
axe.spines['right'].set_color(AXIS_COL)
axe.spines['right'].set_linewidth(0.9)
axe.set_xticks([])
axe.yaxis.tick_right()
axe.set_yticks(np.arange(-0.0028, 0.0012, 0.0007))
axe.tick_params(axis='y', direction='in', length=3.5, width=0.8, color=AXIS_COL, labelright=False)
axe.add_patch(Rectangle((0, 683), XR, 60, transform=T_px, fill=False, ec=BORDER_COL, lw=1.4, zorder=9,
                        clip_on=False))
for kg in GRID_K:
    axe.axvline(kg, color=GRID_COL, lw=0.9, zorder=0.5)
ew = np.array(EWO)
ecol = []
for i, v in enumerate(ew):
    prev = ew[i - 1] if i > 0 else v
    if v >= 0:
        ecol.append('#00ee00' if v > prev else '#0a6e0a')
    else:
        ecol.append('#ff0000' if v < prev else '#7d0000')
axe.bar(kb, ew, width=0.75, color=ecol, lw=0, zorder=2)
axe.hlines(0, bar_at(0), bar_at(XR), colors='#00ff00', lw=1.0, zorder=3)
axe.text(8, 691.5, 'EWO(EUR/USD,5,35,MVA): -0,00186', transform=T_px, ha='left', va='center', fontsize=FS,
         color='#22dd22', zorder=5)
axe.text(1526, 728.3, 'FXCM Marketscope \u00a9 2019', transform=T_px, ha='right', va='center', fontsize=FS,
         color='#2c3c6c', zorder=5)
tr_e = mtransforms.blended_transform_factory(T_px, axe.transData)
axe.text(1543.2, 0.0, '0,000', transform=tr_e, ha='left', va='center', fontsize=FS, color='#111111',
         clip_on=False, bbox=dict(boxstyle='square,pad=0.12', fc='#a6a6a6', ec='none'))

fig.savefig('out.png', dpi=100)
